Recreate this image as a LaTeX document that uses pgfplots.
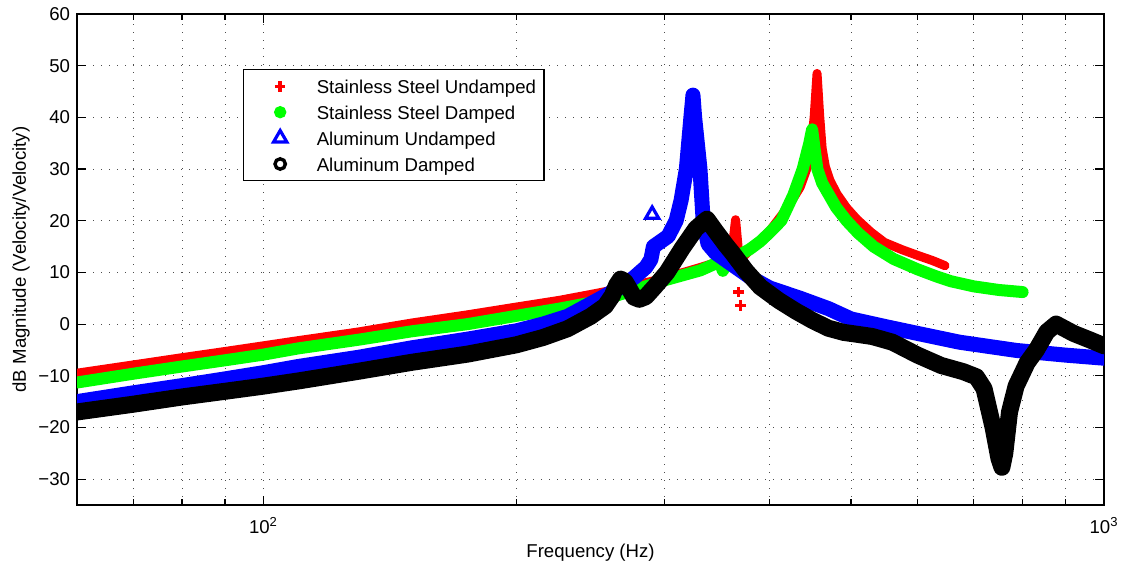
\documentclass[border=0pt]{standalone}
\usepackage{fontspec}
\setmainfont{Liberation Sans}
\usepackage{pgfplots}
\pgfplotsset{compat=1.18}
\newcommand{\ff}{\fontsize{9.3}{11}\selectfont}
\begin{document}
\begin{tikzpicture}
\begin{axis}[
  scale only axis, width=513.5pt, height=245.5pt,
  at={(0,0)}, anchor=south west,
  xmode=log, xmin=60, xmax=1000, ymin=-35, ymax=60,
  xtick={100,1000}, xticklabels={10\textsuperscript{2},10\textsuperscript{3}},
  minor xtick={60,70,80,90,200,300,400,500,600,700,800,900},
  ytick={-30,-20,-10,0,10,20,30,40,50,60},
  yticklabels={−30,−20,−10,0,10,20,30,40,50,60},
  grid=both,
  major grid style={black!70, line width=0.5pt, dash pattern=on 0.5pt off 3.5pt},
  minor grid style={black!70, line width=0.5pt, dash pattern=on 0.5pt off 3.5pt},
  tick align=inside, major tick length=4.5pt, minor tick length=3pt,
  axis line style={line width=0.6pt}, every tick/.style={black, line width=0.6pt},
  tick label style={font=\ff},
  xticklabel style={yshift=-2.5pt},
  label style={font=\ff},
  ylabel style={yshift=-2.5pt},
  xlabel style={yshift=2pt},
  xlabel={Frequency (Hz)}, ylabel={dB Magnitude (Velocity/Velocity)},
  legend image code/.code={\path (0pt,0pt) (32pt,0pt); \draw[#1] plot coordinates {(16pt,0pt)};},
  legend style={at={(0.1616,0.888)}, anchor=north west, font=\ff, draw=black, line width=0.6pt,
    inner xsep=2pt, inner ysep=2.1pt, row sep=0.45pt,
    cells={anchor=west},
    nodes={inner ysep=0pt, text height=10pt, text depth=2.5pt}},
]
% Stainless Steel Undamped
\addplot[red, line width=4.5pt, line join=round, line cap=round, forget plot] coordinates {
(60,-9.5) (70,-7.9) (80,-6.5) (90,-5.3) (100,-4.2) (110,-3.2) (130,-1.5) (150,0.2) (175,1.8) (200,3.3) (225,4.6) (250,6) (270,7.1) (290,8.3) (310,9.6) (330,10.9) (350,12.2) (358,13.2) (362,16) (364.5,20.2) (366.5,16) (368,12.5) (372,13) (380,14.5) (400,18) (420,22.5) (435,26.5) (444,30.5) (448,34) (452,40) (455.6,48.5) (459,40) (462,34) (466,30.5) (472,27.8) (481,25.2) (494,22.5) (508,20.3) (528,17.8) (548,15.8) (575,14.4) (600,13.3) (625,12.3) (647,11.3)};
\addplot[red, only marks, mark=+, mark size=2.6pt, mark options={line width=1.7pt}, forget plot] coordinates {(367.6,6.2) (369.3,3.6)};
% Stainless Steel Damped
\addplot[green, line width=6pt, line join=round, line cap=round, forget plot] coordinates {
(60,-11.3) (70,-9.6) (80,-8.2) (90,-7) (100,-5.9) (110,-4.7) (130,-3) (150,-1.4) (175,0) (200,1.6) (225,3) (250,4.4) (275,6.5) (302,8.6) (331,10.4) (346,11.8) (350,11.5) (352,10.3) (355,11.8) (365,13) (379,14.5) (390,16) (400,17.7) (413,20) (427,25) (438,30) (446,35) (449.5,37.7) (452.5,34) (456,30) (462,27.3) (470.7,25) (480,22.6) (494,20) (510,17.6) (532,15) (562,12.6) (600,10.6) (630,9.3) (657,8.3) (700,7.3) (750,6.6) (800,6.2)};
% Aluminum Undamped
\addplot[blue, line width=7.5pt, line join=round, line cap=round, forget plot] coordinates {
(60,-15) (70,-13.3) (80,-11.9) (90,-10.6) (100,-9.4) (110,-8.2) (130,-6.4) (150,-4.6) (175,-2.9) (200,-1.3) (215,0) (230,1.5) (252,5) (265,7) (276,9) (285,11) (289,12.5) (291,15) (297,16) (303,17) (309.7,20) (314,24) (318.5,30) (322.5,40) (324.3,44.3) (325.8,40) (330.6,30) (333.5,20) (338,15.5) (345,13.8) (352,12.8) (365,11) (380,9) (400,7) (435,5) (470,3) (500,1) (550,-0.5) (600,-1.8) (673,-3.5) (787,-5.1) (900,-6) (1000,-6.6)};
\addplot[blue, only marks, mark=triangle, mark size=3.8pt, mark options={line width=1.6pt}, forget plot] coordinates {(290,21.2)};
% Aluminum Damped
\addplot[black, line width=8.5pt, line join=round, line cap=round, forget plot] coordinates {
(60,-17) (70,-15.5) (80,-14.1) (90,-13) (100,-12) (110,-11) (130,-9.1) (150,-7.4) (175,-5.8) (200,-4) (215,-2.6) (230,-0.9) (245,1.5) (255,3.5) (260,5.5) (263,7.5) (266,8.7) (269,8.3) (272,7) (276,5.2) (280,4.8) (285,5.3) (292,7.2) (302,10) (315,14.7) (327,18.5) (337,20.3) (345,18) (355,15.3) (362,13.6) (375,10.3) (390,7.2) (410,4.6) (430,2.5) (450,0.7) (470,-0.8) (490,-1.6) (510,-2) (530,-2.4) (560,-3.5) (600,-6) (640,-8) (680,-9.2) (705,-10.2) (720,-12.5) (738,-20) (750,-26) (756,-27.7) (762,-25) (772,-17) (786,-12) (810,-7.5) (831,-5) (855,-1.5) (877,0) (920,-1.8) (960,-3) (1000,-4.2)};
\addlegendimage{red, only marks, mark=+, mark size=2.6pt, mark options={line width=1.7pt}}
\addlegendentry{Stainless Steel Undamped}
\addlegendimage{green, only marks, mark=*, mark size=2.8pt}
\addlegendentry{Stainless Steel Damped}
\addlegendimage{blue, only marks, mark=triangle, mark size=3.8pt, mark options={line width=1.6pt}}
\addlegendentry{Aluminum Undamped}
\addlegendimage{black, only marks, mark=o, mark size=2.6pt, mark options={line width=1.7pt}}
\addlegendentry{Aluminum Damped}
\end{axis}
\pgfresetboundingbox
\path (-38.5pt,-30pt) rectangle (523.5pt,252.5pt);
\end{tikzpicture}
\end{document}
